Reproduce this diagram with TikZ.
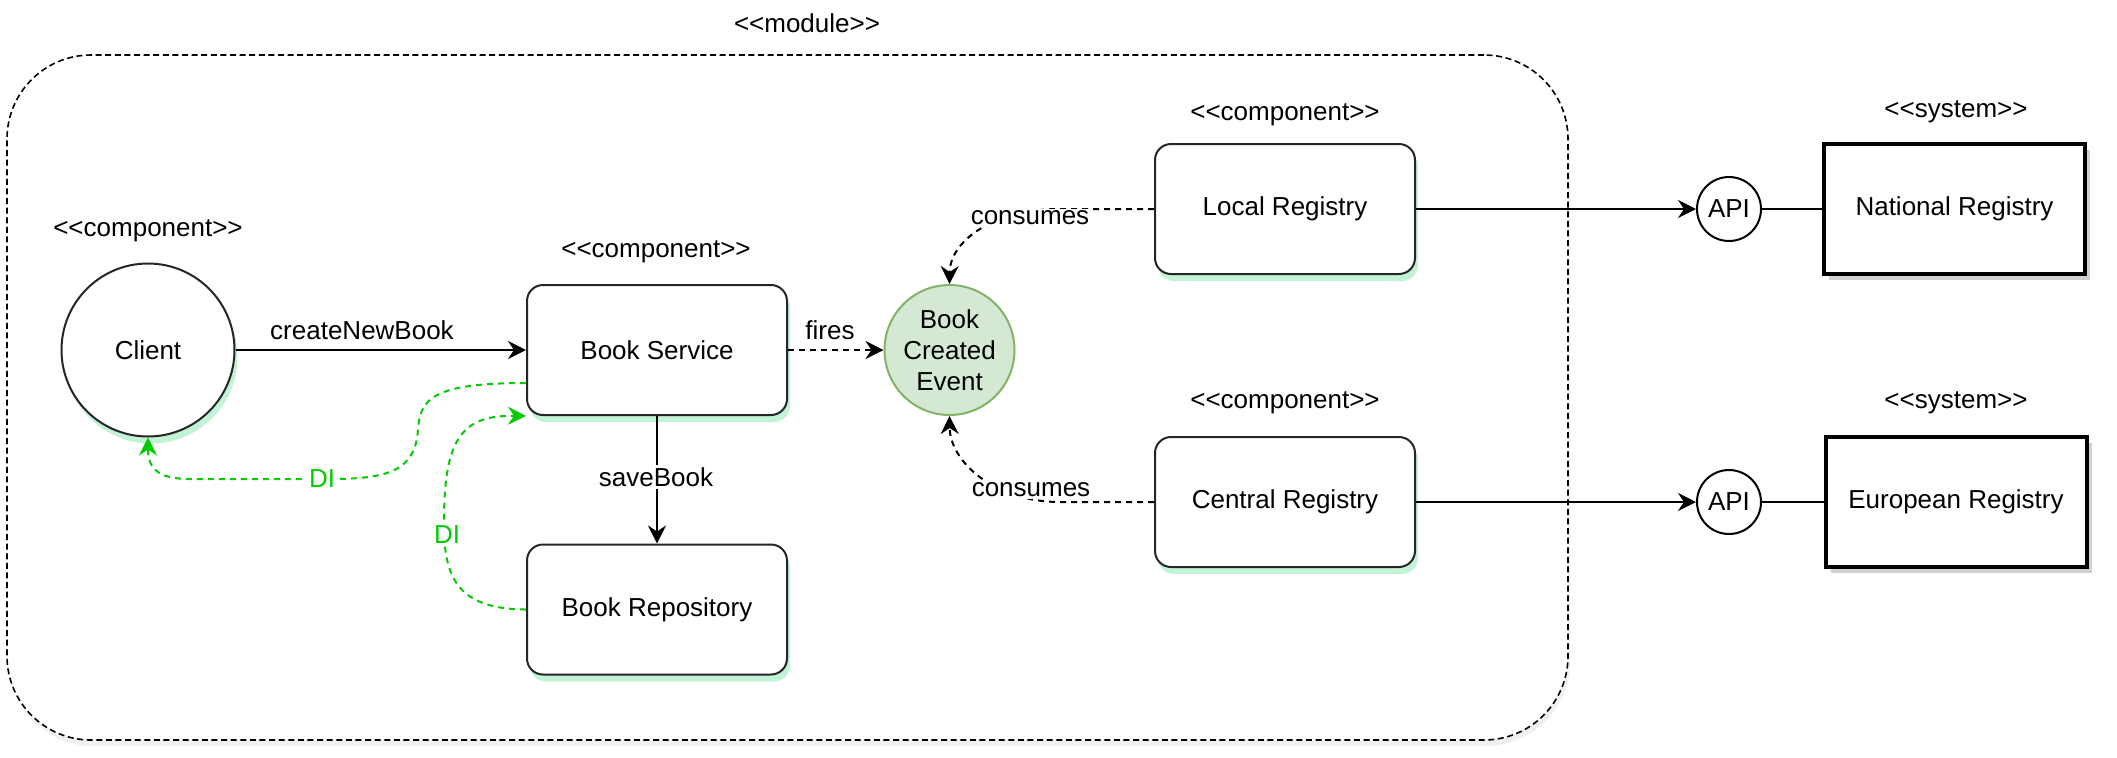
\documentclass[tikz,border=0pt]{standalone}
\usepackage{fontspec}
\setmainfont{Liberation Sans}
\usetikzlibrary{arrows.meta,shadows,calc}
\definecolor{glowc}{RGB}{170,238,198}
\definecolor{dig}{RGB}{0,204,0}
\definecolor{evfill}{HTML}{D5E8D4}
\definecolor{evdraw}{HTML}{82B366}
\newcommand\stereo[1]{<\kern0pt<#1>\kern0pt>}
\tikzset{
  glow/.style={drop shadow={shadow xshift=1.5pt, shadow yshift=-3.5pt, fill=glowc, opacity=0.7}},
  comp/.style={draw=black!85, line width=1pt, rounded corners=8pt, minimum width=130pt, minimum height=65pt, fill=white, glow},
  sysbox/.style={draw=black, line width=2pt, minimum width=130.5pt, minimum height=65pt, fill=white,
    drop shadow={shadow xshift=2.5pt, shadow yshift=-3pt, fill=black, opacity=0.18}},
  apic/.style={circle, draw=black, line width=1pt, minimum size=32pt, inner sep=0pt, fill=white},
  lbl/.style={inner sep=1pt},
  wlbl/.style={inner sep=1pt, fill=white},
  conn/.style={line width=1pt, ->},
  dconn/.style={line width=1pt, ->, dash pattern=on 3pt off 2.5pt},
  diconn/.style={line width=1pt, ->, draw=dig, dash pattern=on 3pt off 2.5pt},
  modbox/.style={draw=black, line width=0.8pt, dash pattern=on 3pt off 1.8pt, rounded corners=42pt, fill=white,
    drop shadow={shadow xshift=1pt, shadow yshift=-3pt, fill=black, opacity=0.06}},
}
\begin{document}
\begin{tikzpicture}[x=0.5pt,y=-0.5pt, font=\fontsize{13pt}{15.5pt}\selectfont,
  >={Stealth[length=9pt,width=9pt,inset=3pt]}]
\useasboundingbox (0,0) rectangle (2117,757);

% module
\node[modbox, minimum width=780.5pt, minimum height=342.5pt] (module) at (787.5,397.5) {};
\node[lbl] (modlbl) at (807,23) {\stereo{module}};

% nodes
\node[circle, draw=black!85, line width=1pt, minimum size=86.5pt, fill=white, glow] (client) at (148,350) {Client};
\node[comp] (bs) at (657,350) {Book Service};
\node[comp] (repo) at (657,609.5) {Book Repository};
\node[circle, draw=evdraw, fill=evfill, line width=1pt, minimum size=65pt, inner sep=0pt, align=center] (ev) at (949.5,350) {Book\\Created\\Event};
\node[comp] (lr) at (1285,209) {Local Registry};
\node[comp] (cr) at (1285,502) {Central Registry};
\node[apic] (api1) at (1729,209) {API};
\node[apic] (api2) at (1729,502) {API};
\node[sysbox] (nr) at (1954.5,209) {National Registry};
\node[sysbox] (er) at (1956,502) {European Registry};

% stereotypes
\node[lbl] (s1) at (148,231) {\stereo{component}};
\node[lbl] (s2) at (656,252) {\stereo{component}};
\node[lbl] (s3) at (1285,115) {\stereo{component}};
\node[lbl] (s4) at (1285,403) {\stereo{component}};
\node[lbl] (s5) at (1956,112) {\stereo{system}};
\node[lbl] (s6) at (1956,403) {\stereo{system}};

% connectors
\draw[conn] (client.east) -- (bs.west);
\node[lbl] (l1) at (362,330) {createNewBook};
\draw[conn] (bs.south) -- (repo.north);
\node[wlbl] (l2) at (656,477) {saveBook};
\draw[dconn] (bs.east) -- (ev.west);
\node[lbl] (l3) at (830,330) {fires};

\draw[dconn] (lr.west) -- (1060,209) .. controls (995,209) and (950,240) .. (ev.north);
\node[wlbl] (l4) at (1030,218) {consumes};
\draw[dconn] (cr.west) -- (1060,502) .. controls (995,502) and (950,462) .. (ev.south);
\node[wlbl] (l5) at (1031,490) {consumes};

\draw[conn] (lr.east) -- (api1.west);
\draw[line width=1pt] (api1.east) -- (nr.west);
\draw[conn] (cr.east) -- (api2.west);
\draw[line width=1pt] (api2.east) -- (er.west);

% DI
\draw[diconn] ($(bs.west)+(0,33)$) .. controls (430,383) and (420,400) .. (418,430)
   .. controls (415,470) and (390,479) .. (330,479) -- (190,479)
   .. controls (160,479) and (148,470) .. (client.south);
\node[wlbl, text=dig] (d1) at (322,479) {DI};
\draw[diconn] (repo.west) .. controls (460,609) and (445,580) .. (444,530)
   .. controls (443,440) and (460,415) .. (bs.south west);
\node[wlbl, text=dig] (d2) at (447,535) {DI};
\end{tikzpicture}
\end{document}
